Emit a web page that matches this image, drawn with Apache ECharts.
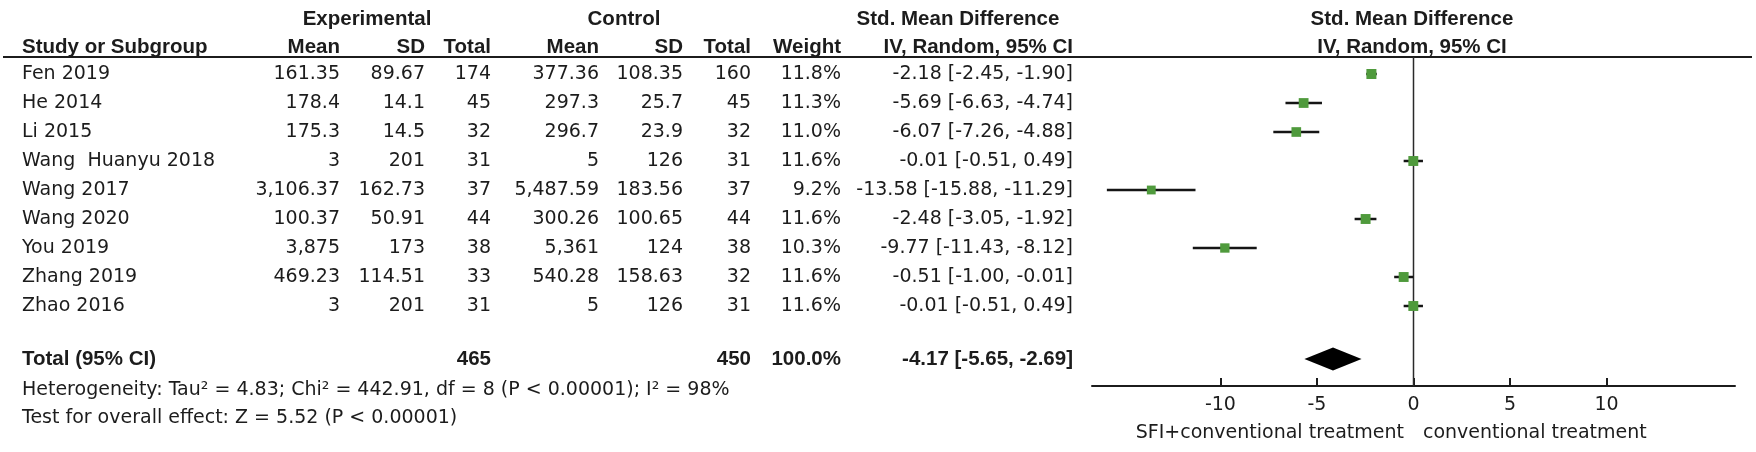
<!DOCTYPE html>
<html>
<head>
<meta charset="utf-8">
<script src="https://cdn.jsdelivr.net/npm/echarts@6/dist/echarts.min.js"></script>
<style>
html,body{margin:0;padding:0;background:#fff;}
#chart{width:1756px;height:452px;}
</style>
</head>
<body>
<div id="chart"></div>
<script>
// ---------------- data ----------------
const studies = ["Fen 2019","He 2014","Li 2015","Wang  Huanyu 2018","Wang 2017","Wang 2020","You 2019","Zhang 2019","Zhao 2016"];
const expMean = [161.35,178.4,175.3,3,3106.37,100.37,3875,469.23,3];
const expSD = [89.67,14.1,14.5,201,162.73,50.91,173,114.51,201];
const expTotal = [174,45,32,31,37,44,38,33,31];
const ctlMean = [377.36,297.3,296.7,5,5487.59,300.26,5361,540.28,5];
const ctlSD = [108.35,25.7,23.9,126,183.56,100.65,124,158.63,126];
const ctlTotal = [160,45,32,31,37,44,38,32,31];
const weight = [11.8,11.3,11.0,11.6,9.2,11.6,10.3,11.6,11.6];
const smd = [-2.18,-5.69,-6.07,-0.01,-13.58,-2.48,-9.77,-0.51,-0.01];
const ciLow = [-2.45,-6.63,-7.26,-0.51,-15.88,-3.05,-11.43,-1.00,-0.51];
const ciHigh = [-1.90,-4.74,-4.88,0.49,-11.29,-1.92,-8.12,-0.01,0.49];
const totalExp = 465, totalCtl = 450, totalWeight = 100.0;
const totalSmd = -4.17, totalLow = -5.65, totalHigh = -2.69;
const xTicks = [-10,-5,0,5,10];
const heterogeneityText = "Heterogeneity: Tau\u00b2 = 4.83; Chi\u00b2 = 442.91, df = 8 (P < 0.00001); I\u00b2 = 98%";
const overallText = "Test for overall effect: Z = 5.52 (P < 0.00001)";
const leftLabel = "SFI+conventional treatment";
const rightLabel = "conventional treatment";

// ---------------- layout ----------------
const ROW0 = 74, ROWH = 29;               // pixel centre of first row, row pitch
const rowOf = y => (y - ROW0) / ROWH;      // pixel -> row coordinate
const TOTAL_ROW = rowOf(359);
const REG = {fontFamily:'DejaVu Sans', fontSize:19, fontWeight:'normal', fill:'#1c1c1c'};
const BOLD = {fontFamily:'Liberation Sans', fontSize:20.5, fontWeight:'bold', fill:'#1c1c1c'};
const fmtNum = v => v.toLocaleString('en-US', {maximumFractionDigits:2});
const fmtCI = (e,l,h) => e.toFixed(2) + ' [' + l.toFixed(2) + ', ' + h.toFixed(2) + ']';

const COL = {study:22, eMean:340, eSD:425, eTot:491, cMean:599, cSD:683, cTot:751, w:841, ci:1073};

const cells = [];
function cell(x, row, text, align, font){ cells.push({x, row, text, align, font}); }
// header row 1
cell(367, rowOf(19), 'Experimental', 'center', BOLD);
cell(624, rowOf(19), 'Control', 'center', BOLD);
cell(958, rowOf(19), 'Std. Mean Difference', 'center', BOLD);
cell(1412, rowOf(19), 'Std. Mean Difference', 'center', BOLD);
// header row 2
const H2 = rowOf(47);
cell(COL.study, H2, 'Study or Subgroup', 'left', BOLD);
cell(COL.eMean, H2, 'Mean', 'right', BOLD);
cell(COL.eSD, H2, 'SD', 'right', BOLD);
cell(COL.eTot, H2, 'Total', 'right', BOLD);
cell(COL.cMean, H2, 'Mean', 'right', BOLD);
cell(COL.cSD, H2, 'SD', 'right', BOLD);
cell(COL.cTot, H2, 'Total', 'right', BOLD);
cell(COL.w, H2, 'Weight', 'right', BOLD);
cell(COL.ci, H2, 'IV, Random, 95% CI', 'right', BOLD);
cell(1412, H2, 'IV, Random, 95% CI', 'center', BOLD);
// study rows
studies.forEach((s, i) => {
  cell(COL.study, i, s, 'left', REG);
  cell(COL.eMean, i, fmtNum(expMean[i]), 'right', REG);
  cell(COL.eSD, i, fmtNum(expSD[i]), 'right', REG);
  cell(COL.eTot, i, String(expTotal[i]), 'right', REG);
  cell(COL.cMean, i, fmtNum(ctlMean[i]), 'right', REG);
  cell(COL.cSD, i, fmtNum(ctlSD[i]), 'right', REG);
  cell(COL.cTot, i, String(ctlTotal[i]), 'right', REG);
  cell(COL.w, i, weight[i].toFixed(1) + '%', 'right', REG);
  cell(COL.ci, i, fmtCI(smd[i], ciLow[i], ciHigh[i]), 'right', REG);
});
// total row
cell(COL.study, TOTAL_ROW, 'Total (95% CI)', 'left', BOLD);
cell(COL.eTot, TOTAL_ROW, String(totalExp), 'right', BOLD);
cell(COL.cTot, TOTAL_ROW, String(totalCtl), 'right', BOLD);
cell(COL.w, TOTAL_ROW, totalWeight.toFixed(1) + '%', 'right', BOLD);
cell(COL.ci, TOTAL_ROW, fmtCI(totalSmd, totalLow, totalHigh), 'right', BOLD);
cell(COL.study, rowOf(390), heterogeneityText, 'left', REG);
cell(COL.study, rowOf(418), overallText, 'left', REG);

// plot grid geometry
const PLOT_LEFT = 1092, PLOT_WIDTH = 643, PLOT_TOP = 57, AXIS_Y = 386;
const XR = 16.65;

const chart = echarts.init(document.getElementById('chart'), null, {renderer:'canvas'});
chart.setOption({
  animation: false,
  backgroundColor: '#ffffff',
  grid: [
    {left:0, top:0, width:1756, height:452},
    {left:PLOT_LEFT, top:PLOT_TOP, width:PLOT_WIDTH, height:AXIS_Y - PLOT_TOP}
  ],
  xAxis: [
    {gridIndex:0, type:'value', min:0, max:1756, show:false},
    {gridIndex:1, type:'value', min:-XR, max:XR,
     splitLine:{show:false},
     axisLine:{show:true, onZero:false, lineStyle:{color:'#1c1c1c', width:2}},
     axisTick:{show:true, inside:true, length:8, lineStyle:{color:'#1c1c1c', width:2}, customValues:xTicks},
     axisLabel:{show:true, margin:10, color:'#1c1c1c', fontFamily:'DejaVu Sans', fontSize:19, customValues:xTicks}}
  ],
  yAxis: [
    {gridIndex:0, type:'value', inverse:true, min:rowOf(0), max:rowOf(452), show:false},
    {gridIndex:1, type:'value', inverse:true, min:rowOf(PLOT_TOP), max:rowOf(AXIS_Y), show:false}
  ],
  graphic: [
    {type:'line', shape:{x1:3, y1:57, x2:1752, y2:57}, style:{stroke:'#1c1c1c', lineWidth:2}},
    {type:'text', x:1404, y:433, style:Object.assign({}, REG, {text:leftLabel, align:'right', verticalAlign:'middle'})},
    {type:'text', x:1423, y:433, style:Object.assign({}, REG, {text:rightLabel, align:'left', verticalAlign:'middle'})}
  ],
  series: [
    { // table text
      type:'custom', xAxisIndex:0, yAxisIndex:0, clip:false, silent:true,
      data: cells.map(c => [c.x, c.row]),
      encode:{x:0, y:1},
      renderItem(params, api){
        const c = cells[params.dataIndex];
        const p = api.coord([c.x, c.row]);
        return {type:'text', x:p[0], y:p[1],
          style:Object.assign({}, c.font, {text:c.text, align:c.align, verticalAlign:'middle'})};
      }
    },
    { // line of no effect
      type:'line', xAxisIndex:1, yAxisIndex:1, symbol:'none', silent:true, z:1,
      lineStyle:{color:'#2a2a2a', width:1.5},
      data:[[0, rowOf(PLOT_TOP)], [0, rowOf(AXIS_Y)]]
    },
    { // study CIs and squares
      type:'custom', xAxisIndex:1, yAxisIndex:1, clip:false, z:3,
      data: studies.map((s,i) => [smd[i], ciLow[i], ciHigh[i], i, weight[i]]),
      encode:{x:[0,1,2], y:3},
      renderItem(params, api){
        const y = api.value(3);
        const a = api.coord([api.value(1), y]);
        const b = api.coord([api.value(2), y]);
        const c = api.coord([api.value(0), y]);
        const s = 10 * Math.sqrt(api.value(4) / 11.8);
        return {type:'group', children:[
          {type:'line', shape:{x1:a[0], y1:a[1], x2:b[0], y2:b[1]}, style:{stroke:'#151515', lineWidth:2.5}},
          {type:'rect', shape:{x:c[0]-s/2, y:c[1]-s/2, width:s, height:s}, style:{fill:'#4f9a3c'}}
        ]};
      }
    },
    { // pooled diamond
      type:'custom', xAxisIndex:1, yAxisIndex:1, clip:false, z:3,
      data:[[totalSmd, totalLow, totalHigh, TOTAL_ROW]],
      encode:{x:[0,1,2], y:3},
      renderItem(params, api){
        const y = api.value(3);
        const l = api.coord([api.value(1), y]);
        const r = api.coord([api.value(2), y]);
        const m = api.coord([api.value(0), y]);
        const h = 11.5;
        return {type:'polygon', shape:{points:[[l[0], l[1]], [m[0], m[1]-h], [r[0], r[1]], [m[0], m[1]+h]]},
          style:{fill:'#000'}};
      }
    }
  ]
});
</script>
</body>
</html>
